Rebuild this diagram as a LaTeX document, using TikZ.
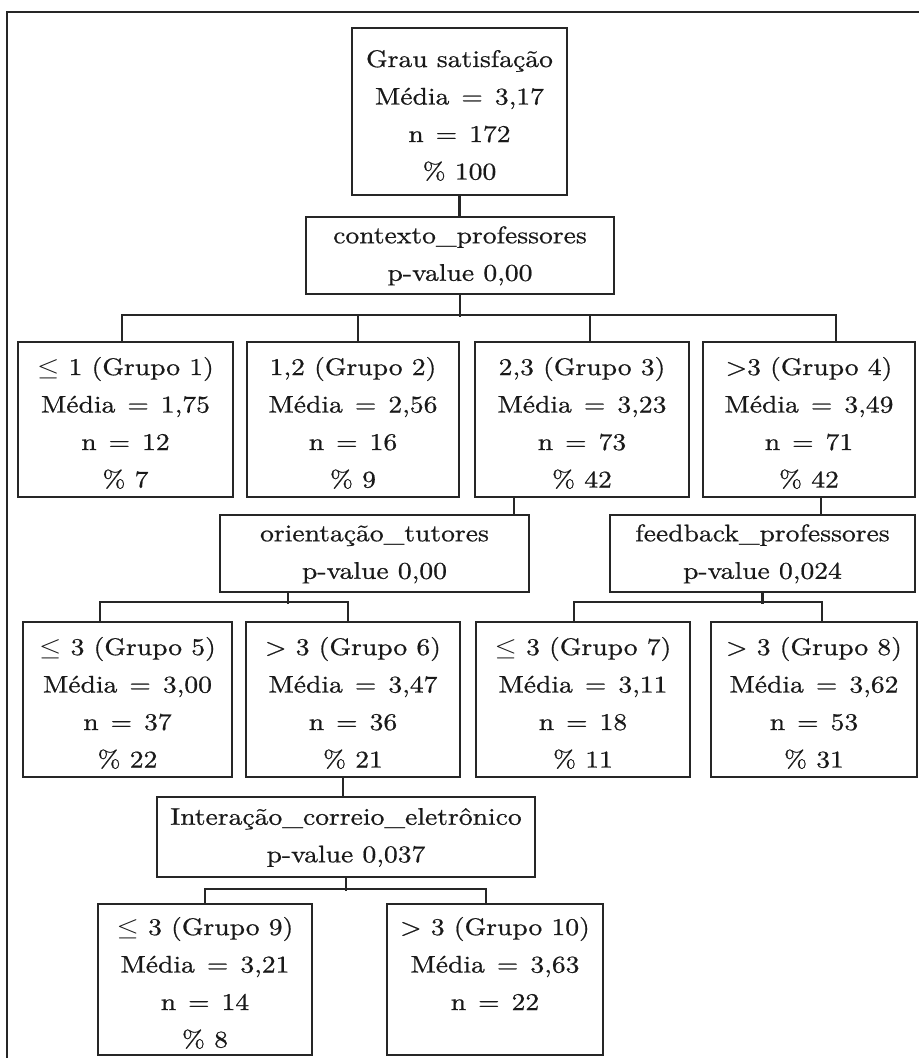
\documentclass[tikz,border=0pt]{standalone}
\usepackage{fontspec}
\setmainfont{lmroman10-regular.otf}[FakeStretch=1.15,FakeBold=0.7]
\usepackage{graphicx}
\newcommand\leqs{\scalebox{1.15}[1]{$\leq$}}
\newcommand\eq{\hspace{0.5em}=\hspace{0.5em}}
\newcommand\TopS{\rule{0pt}{28.5pt}}
\newcommand\TopT{\rule{0pt}{18pt}}
\newcommand\BotS{\rule[-5pt]{0pt}{5pt}}
\colorlet{lc}{black!85}
\tikzset{
  box/.style={draw=lc, line width=2.2pt, inner sep=0pt, align=center,
    font=\fontsize{24}{37.5}\selectfont, text=black!90},
  conn/.style={draw=lc, line width=2.2pt},
  frameline/.style={draw=lc, line width=2.2pt}
}
\begin{document}
\begin{tikzpicture}[x=1pt,y=-1pt]
\useasboundingbox (0,0) rectangle (919,1058);
\draw[frameline] (7,1058) -- (7,12) -- (919,12);

% root and first split
\node[box, minimum width=215pt, minimum height=167pt] (root) at (459.5,111.5)
  {\TopS Grau satisfação\\Média\eq 3,17\\n\eq 172\\\% 100\BotS};
\node[box, minimum width=308pt, minimum height=77pt] (ctx) at (460,255.5)
  {\TopT contexto\_professores\\p-value 0,00\BotS};

\node[box, minimum width=215pt, minimum height=155pt] (b1) at (125.5,419.5)
  {\TopS\leqs{} 1 (Grupo 1)\\Média\eq 1,75\\n\eq 12\\\% 7\BotS};
\node[box, minimum width=212pt, minimum height=155pt] (b2) at (353,419.5)
  {\TopS 1,2 (Grupo 2)\\Média\eq 2,56\\n\eq 16\\\% 9\BotS};
\node[box, minimum width=214pt, minimum height=155pt] (b3) at (582,419.5)
  {\TopS 2,3 (Grupo 3)\\Média\eq 3,23\\n\eq 73\\\% 42\BotS};
\node[box, minimum width=212pt, minimum height=155pt] (b4) at (809,419.5)
  {\TopS >3 (Grupo 4)\\Média\eq 3,49\\n\eq 71\\\% 42\BotS};

% second level splits
\node[box, minimum width=309pt, minimum height=77pt] (ori) at (374.5,553.5)
  {\TopT orientação\_tutores\\p-value 0,00\BotS};
\node[box, minimum width=305pt, minimum height=77pt] (fb) at (762.5,553.5)
  {\TopT feedback\_professores\\p-value 0,024\BotS};

\node[box, minimum width=209pt, minimum height=155pt] (b5) at (127.5,699.5)
  {\TopS\leqs{} 3 (Grupo 5)\\Média\eq 3,00\\n\eq 37\\\% 22\BotS};
\node[box, minimum width=214pt, minimum height=155pt] (b6) at (353,699.5)
  {\TopS > 3 (Grupo 6)\\Média\eq 3,47\\n\eq 36\\\% 21\BotS};
\node[box, minimum width=214pt, minimum height=155pt] (b7) at (583,699.5)
  {\TopS\leqs{} 3 (Grupo 7)\\Média\eq 3,11\\n\eq 18\\\% 11\BotS};
\node[box, minimum width=206pt, minimum height=155pt] (b8) at (814,699.5)
  {\TopS > 3 (Grupo 8)\\Média\eq 3,62\\n\eq 53\\\% 31\BotS};

% third level split
\node[box, minimum width=378pt, minimum height=80pt] (int) at (346,837)
  {\TopT Interação\_correio\_eletrônico\\p-value 0,037\BotS};

\node[box, minimum width=214pt, minimum height=151pt] (b9) at (205,979.5)
  {\TopS\leqs{} 3 (Grupo 9)\\Média\eq 3,21\\n\eq 14\\\% 8\BotS};
\node[box, minimum width=216pt, minimum height=151pt] (b10) at (495,979.5)
  {\TopS > 3 (Grupo 10)\\Média\eq 3,63\\n\eq 22\\\BotS};

% connectors
\draw[conn] (root.south) -- (root.south |- ctx.north);
\draw[conn] (ctx.south) -- ++(0,22);
\draw[conn] ([xshift=-3.5pt]b1.north) -- ++(0,-26) -| ([xshift=27pt]b4.north);
\draw[conn] ([xshift=5pt]b2.north) -- ++(0,-26);
\draw[conn] ([xshift=8pt]b3.north) -- ++(0,-26);

\draw[conn] ([xshift=-68pt]b3.south) -- ([xshift=-68pt]b3.south |- ori.north);
\draw[conn] ([xshift=12pt]b4.south) -- ([xshift=12pt]b4.south |- fb.north);

\draw[conn] ([xshift=-86.5pt]ori.south) -- ++(0,11);
\draw[conn] ([xshift=-27.5pt]b5.north) -- ++(0,-19) -| ([xshift=-5pt]b6.north);
\draw[conn] (fb.south) -- ++(0,11);
\draw[conn] ([xshift=-9pt]b7.north) -- ++(0,-19) -| ([xshift=8pt]b8.north);

\draw[conn] ([xshift=-10pt]b6.south) -- ([xshift=-10pt]b6.south |- int.north);
\draw[conn] (int.south) -- ++(0,13);
\draw[conn] (b9.north) -- ++(0,-14) -| ([xshift=-9pt]b10.north);
\end{tikzpicture}
\end{document}
